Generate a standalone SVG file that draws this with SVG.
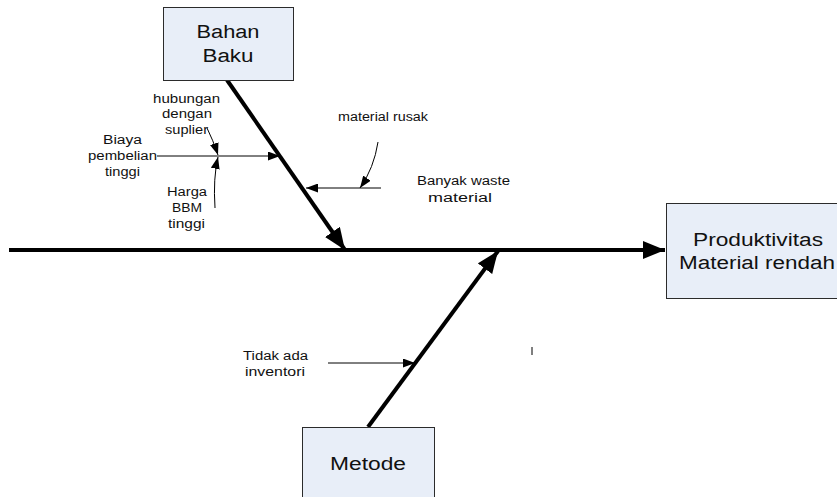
<svg xmlns="http://www.w3.org/2000/svg" width="837" height="497" viewBox="0 0 837 497">
<style>
.box{fill:#e8eef8;stroke:#2b2b2b;stroke-width:1}
.big{font-family:"Liberation Sans",Arial,sans-serif;font-size:18px;fill:#111}
.lbl{font-family:"Liberation Sans",Arial,sans-serif;font-size:12px;fill:#111}
.bone{stroke:#000;stroke-width:4;fill:none}
.thin{stroke:#000;stroke-width:1;fill:none}
</style>
<defs>
<marker id="big" markerUnits="userSpaceOnUse" markerWidth="24" markerHeight="18" refX="22" refY="9" orient="auto">
<path d="M0,0 L22,9 L0,18 Z" fill="#000"/>
</marker>
<marker id="sm" markerUnits="userSpaceOnUse" markerWidth="13" markerHeight="9" refX="12" refY="4.5" orient="auto">
<path d="M0,0 L12,4.5 L0,9 Z" fill="#000"/>
</marker>
</defs>
<g id="connectors">
<line class="bone" x1="9" y1="250" x2="665" y2="250" stroke-width="3.5" marker-end="url(#big)"/>
<line class="bone" x1="227" y1="80" x2="345" y2="250" marker-end="url(#big)"/>
<line class="bone" x1="368" y1="427" x2="498" y2="251" marker-end="url(#big)"/>
<line class="thin" x1="157" y1="156" x2="280" y2="156" marker-end="url(#sm)"/>
<path class="thin" d="M207,128 Q213,140 218,155" marker-end="url(#sm)"/>
<path class="thin" d="M215,208 Q213,178 218,157" marker-end="url(#sm)"/>
<path class="thin" d="M378,142 Q374,168 360,188" marker-end="url(#sm)"/>
<line class="thin" x1="381" y1="188" x2="306" y2="188" marker-end="url(#sm)"/>
<line class="thin" x1="328" y1="363" x2="415" y2="363" marker-end="url(#sm)"/>
<line x1="532" y1="347" x2="532" y2="355" stroke="#555" stroke-width="1.5"/>
</g>
<g id="bahan-baku">
<rect class="box" x="163.5" y="7.5" width="130" height="73"/>
<text class="big" x="228" y="38" text-anchor="middle" textLength="63" lengthAdjust="spacingAndGlyphs">Bahan</text>
<text class="big" x="228" y="62" text-anchor="middle" textLength="51" lengthAdjust="spacingAndGlyphs">Baku</text>
</g>
<g id="produktivitas">
<rect class="box" x="666.5" y="203.5" width="175" height="95"/>
<text class="big" x="758" y="246" text-anchor="middle" textLength="130" lengthAdjust="spacingAndGlyphs">Produktivitas</text>
<text class="big" x="757" y="269" text-anchor="middle" textLength="156" lengthAdjust="spacingAndGlyphs">Material rendah</text>
</g>
<g id="metode">
<rect class="box" x="302.5" y="427.5" width="132" height="75"/>
<text class="big" x="368" y="470" text-anchor="middle" textLength="76" lengthAdjust="spacingAndGlyphs">Metode</text>
</g>
<g id="label-hubungan">
<text class="lbl" x="186.5" y="103" text-anchor="middle" textLength="67" lengthAdjust="spacingAndGlyphs">hubungan</text>
<text class="lbl" x="187" y="118" text-anchor="middle" textLength="50" lengthAdjust="spacingAndGlyphs">dengan</text>
<text class="lbl" x="186.5" y="134" text-anchor="middle" textLength="43" lengthAdjust="spacingAndGlyphs">suplier</text>
</g>
<g id="label-biaya">
<text class="lbl" x="122.5" y="144" text-anchor="middle" textLength="39" lengthAdjust="spacingAndGlyphs">Biaya</text>
<text class="lbl" x="122.5" y="160" text-anchor="middle" textLength="69" lengthAdjust="spacingAndGlyphs">pembelian</text>
<text class="lbl" x="122.5" y="176" text-anchor="middle" textLength="35" lengthAdjust="spacingAndGlyphs">tinggi</text>
</g>
<g id="label-harga">
<text class="lbl" x="187" y="196" text-anchor="middle" textLength="40" lengthAdjust="spacingAndGlyphs">Harga</text>
<text class="lbl" x="187" y="212" text-anchor="middle" textLength="30" lengthAdjust="spacingAndGlyphs">BBM</text>
<text class="lbl" x="186.5" y="228" text-anchor="middle" textLength="37" lengthAdjust="spacingAndGlyphs">tinggi</text>
</g>
<g id="label-material-rusak">
<text class="lbl" x="383" y="121" text-anchor="middle" textLength="90" lengthAdjust="spacingAndGlyphs">material rusak</text>
</g>
<g id="label-banyak-waste">
<text class="lbl" x="463.5" y="185" text-anchor="middle" textLength="93" lengthAdjust="spacingAndGlyphs">Banyak waste</text>
<text class="lbl" x="460" y="202" text-anchor="middle" textLength="64" lengthAdjust="spacingAndGlyphs">material</text>
</g>
<g id="label-tidak-ada">
<text class="lbl" x="275.5" y="360" text-anchor="middle" textLength="65" lengthAdjust="spacingAndGlyphs">Tidak ada</text>
<text class="lbl" x="275" y="376" text-anchor="middle" textLength="60" lengthAdjust="spacingAndGlyphs">inventori</text>
</g>
</svg>
